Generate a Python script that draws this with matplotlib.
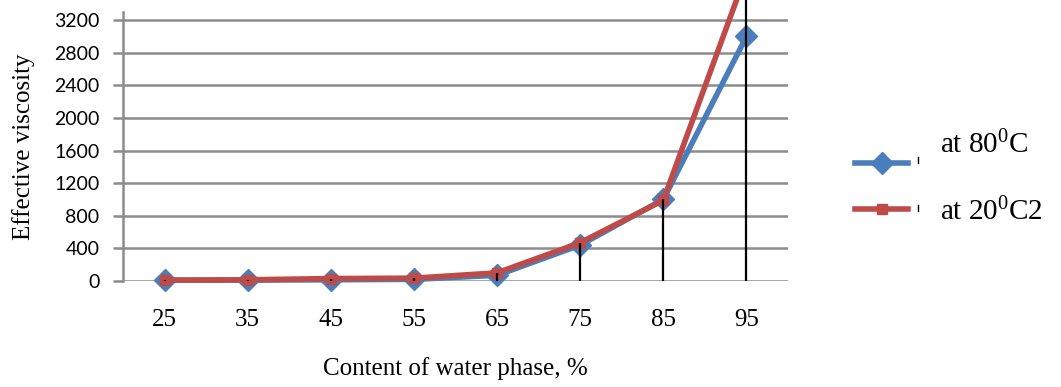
import numpy as np
import matplotlib.pyplot as plt
from matplotlib.lines import Line2D

plt.rcParams["mathtext.fontset"] = "custom"
plt.rcParams["mathtext.rm"] = "Liberation Serif"
plt.rcParams["mathtext.it"] = "Liberation Serif:italic"

# water phase content, %
water = [25, 35, 45, 55, 65, 75, 85, 95]
visc_80 = [10, 10, 15, 20, 70, 440, 1000, 3000]
visc_20 = [10, 15, 30, 35, 100, 470, 990, 3780]
yticks = [0, 400, 800, 1200, 1600, 2000, 2400, 2800, 3200]
labels = ["at 80$\\mathregular{^0}$C", "at 20$\\mathregular{^0}$C2"]

blue = "#4a7ebb"
red = "#be4b48"
grid_c = "#8c8c8c"

W, H = 1061, 387
fig = plt.figure(figsize=(W / 100, H / 100), dpi=100)
ax = fig.add_axes([0.1159, 0.2739, 0.6268, 0.6951])

x = np.arange(len(water))
ax.set_xlim(-0.5, len(water) - 0.5)
ax.set_ylim(0, 3300)

for v in yticks:
    ax.axhline(v, color=grid_c, lw=1.8, zorder=1)

ax.plot(x, visc_80, color=blue, lw=4, marker="D", ms=11, mec=blue, mfc=blue,
        zorder=3, clip_on=False)
ax.plot(x, visc_20, color=red, lw=4, marker="s", ms=7, mec=red, mfc=red,
        zorder=4, clip_on=False)

# drop lines from the highest series down to zero
tops = np.maximum(visc_80, visc_20)
ax.vlines(x, 0, tops, color="black", lw=1.6, zorder=5, clip_on=False)

for s in ["top", "right", "bottom"]:
    ax.spines[s].set_visible(False)
ax.spines["left"].set_color(grid_c)
ax.spines["left"].set_linewidth(1.8)

ax.set_yticks(yticks)
ax.set_yticklabels([str(v) for v in yticks], fontfamily="Lato", fontsize=14)
ax.tick_params(axis="y", length=7, width=1.8, color=grid_c, pad=10)
ax.set_xticks(x)
ax.set_xticklabels([str(w) for w in water], fontfamily="Liberation Serif", fontsize=18)
ax.tick_params(axis="x", length=0, pad=20)

ax.set_xlabel("Content of water phase, %", fontfamily="Liberation Serif",
              fontsize=18, labelpad=19)
ax.set_ylabel("Effective viscosity", fontfamily="Liberation Serif", fontsize=18,
              labelpad=14)

# legend drawn by hand
def px(xp, yp):
    return xp / W, 1 - yp / H

rows = [(blue, "D", 11, 163, 153, 160), (red, "s", 7, 209, 220, 208)]
for (c, m, ms, ly, ty, tk), lab in zip(rows, labels):
    x0, y0 = px(855, ly)
    x1, _ = px(908, ly)
    fig.add_artist(Line2D([x0, x1], [y0, y0], color=c, lw=4,
                          transform=fig.transFigure))
    fig.add_artist(Line2D([(x0 + x1) / 2], [y0], color=c, marker=m, ms=ms,
                          mec=c, mfc=c, transform=fig.transFigure))
    kx, ky0 = px(918, tk - 3)
    _, ky1 = px(918, tk + 3)
    fig.add_artist(Line2D([kx, kx], [ky0, ky1], color="black", lw=1,
                          transform=fig.transFigure))
    tx, tyf = px(940, ty)
    fig.text(tx, tyf, lab, fontfamily="Liberation Serif", fontsize=21,
             va="baseline", ha="left")

fig.savefig("out.png", dpi=100)
